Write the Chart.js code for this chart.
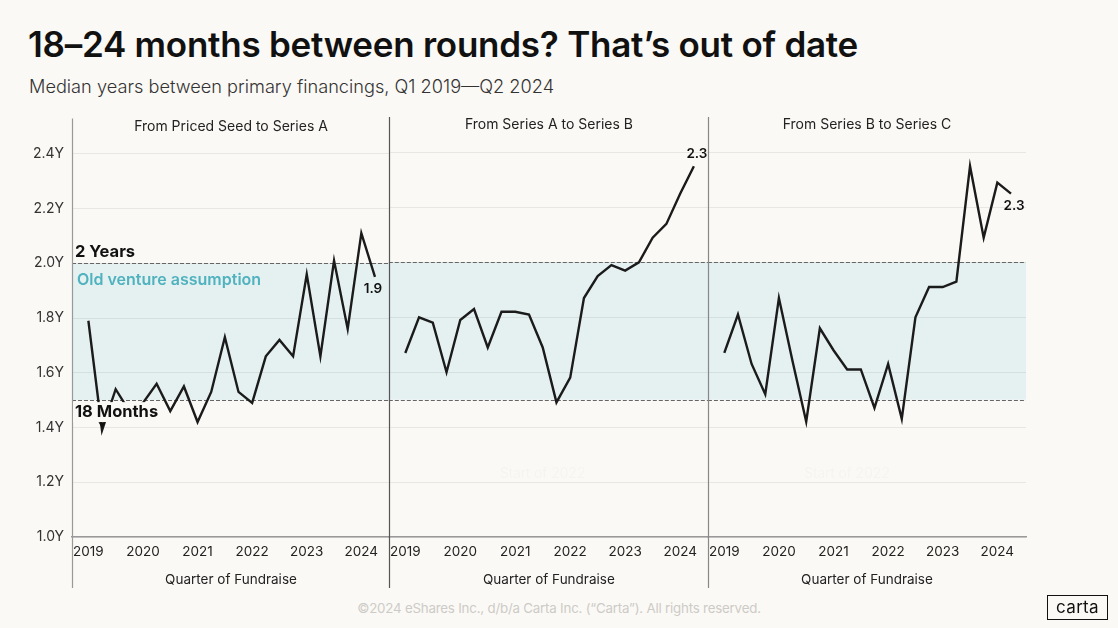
<!DOCTYPE html>
<html lang="en">
<head>
<meta charset="UTF-8">
<title>18–24 months between rounds? That’s out of date</title>
<script src="https://cdn.jsdelivr.net/npm/chart.js"></script>
<style>
  body { margin: 0; background: #fbf9f5; font-family: Inter, sans-serif; }
  #page { position: relative; width: 1118px; height: 628px; overflow: hidden; }
  h1 { position: absolute; left: 28px; top: 27px; margin: 0; font-size: 35px; line-height: 1;
       font-weight: 600; letter-spacing: -0.25px; color: #111; white-space: nowrap; }
  .sub { position: absolute; left: 29px; top: 77px; font-size: 18.2px; line-height: 1;
         font-weight: 300; color: #333; white-space: nowrap; }
  .panel { position: absolute; top: 110px; height: 490px; }
  .footer { position: absolute; left: 0; width: 1118px; top: 600px; text-align: center;
            font-size: 13.3px; color: #cdcbc7; letter-spacing: -0.2px; }
  .logo { position: absolute; left: 1047px; top: 595px; width: 59px; height: 23px; border: 1.5px solid #111;
          font-size: 17px; line-height: 22px; text-align: center; color: #111; letter-spacing: 0.3px; }
</style>
</head>
<body>
<div id="page">
  <h1>18–24 months between rounds? That’s out of date</h1>
  <div class="sub">Median years between primary financings, Q1 2019—Q2 2024</div>

  <div class="panel" style="left:0;width:390px"><canvas id="c1"></canvas></div>
  <div class="panel" style="left:383px;width:326px"><canvas id="c2"></canvas></div>
  <div class="panel" style="left:702px;width:347px"><canvas id="c3"></canvas></div>

  <div class="footer">©2024 eShares Inc., d/b/a Carta Inc. (“Carta”). All rights reserved.</div>
  <div class="logo">carta</div>
</div>

<script>
  // quarters Q1 2019 .. Q2 2024
  const quarters = [
    'Q1 2019', 'Q2 2019', 'Q3 2019', 'Q4 2019',
    'Q1 2020', 'Q2 2020', 'Q3 2020', 'Q4 2020',
    'Q1 2021', 'Q2 2021', 'Q3 2021', 'Q4 2021',
    'Q1 2022', 'Q2 2022', 'Q3 2022', 'Q4 2022',
    'Q1 2023', 'Q2 2023', 'Q3 2023', 'Q4 2023',
    'Q1 2024', 'Q2 2024'
  ];
  const yearTicks = ['2019', '2020', '2021', '2022', '2023', '2024'];
  const yTicks = [1.0, 1.2, 1.4, 1.6, 1.8, 2.0, 2.2, 2.4];

  // median years between rounds
  const seedToA = [1.79, 1.39, 1.54, 1.46, 1.49, 1.56, 1.46, 1.55, 1.42, 1.53, 1.73,
                   1.53, 1.49, 1.66, 1.72, 1.66, 1.96, 1.66, 2.01, 1.76, 2.11, 1.95];
  const aToB = [1.67, 1.80, 1.78, 1.60, 1.79, 1.83, 1.69, 1.82, 1.82, 1.81, 1.69,
                1.49, 1.58, 1.87, 1.95, 1.99, 1.97, 2.00, 2.09, 2.14, 2.25, 2.35];
  const bToC = [1.67, 1.81, 1.63, 1.52, 1.87, 1.64, 1.42, 1.76, 1.68, 1.61, 1.61,
                1.47, 1.63, 1.43, 1.80, 1.91, 1.91, 1.93, 2.35, 2.09, 2.29, 2.25];

  const panelTitles = ['From Priced Seed to Series A', 'From Series A to Series B', 'From Series B to Series C'];
  const endLabels = ['1.9', '2.3', '2.3'];
  const oldLow = 1.5, oldHigh = 2.0;   // 18 months .. 2 years

  const FONT = 'Inter, sans-serif';
  const INK = '#1b1b1b';

  function facetPlugin(cfg) {
    return {
      id: 'facet',
      beforeDraw(chart) {
        const { ctx, chartArea: a, scales: { y } } = chart;
        ctx.save();
        ctx.fillStyle = '#e5f0f0';
        ctx.fillRect(a.left, y.getPixelForValue(oldHigh), a.right - a.left,
                     y.getPixelForValue(oldLow) - y.getPixelForValue(oldHigh));
        ctx.restore();
      },
      beforeDatasetsDraw(chart) {
        const { ctx, chartArea: a, scales: { y } } = chart;
        ctx.save();
        ctx.strokeStyle = '#666';
        ctx.lineWidth = 1;
        ctx.setLineDash([4, 2]);
        [oldHigh, oldLow].forEach(v => {
          const py = Math.round(y.getPixelForValue(v)) + 0.5;
          ctx.beginPath(); ctx.moveTo(a.left, py); ctx.lineTo(a.right, py); ctx.stroke();
        });
        ctx.restore();
        if (cfg.faint) {
          ctx.save();
          ctx.fillStyle = '#f5f3ef';
          ctx.font = '300 14px ' + FONT;
          ctx.textAlign = 'center';
          ctx.textBaseline = 'middle';
          ctx.fillText('Start of 2022', chart.scales.x.getPixelForValue(quarters.indexOf(cfg.faint)), y.getPixelForValue(1.23));
          ctx.restore();
        }
      },
      afterDatasetsDraw(chart) {
        const { ctx, chartArea: a, scales: { x, y } } = chart;
        const vals = cfg.values;
        const last = vals.length - 1;
        ctx.save();
        // panel divider
        ctx.strokeStyle = cfg.divider;
        ctx.lineWidth = 1.2;
        ctx.beginPath();
        ctx.moveTo(Math.round(a.left) + 0.5, a.top - 8);
        ctx.lineTo(Math.round(a.left) + 0.5, a.bottom + 51);
        ctx.stroke();
        // facet header
        ctx.fillStyle = '#222';
        ctx.font = '400 14px ' + FONT;
        ctx.textAlign = 'center';
        ctx.textBaseline = 'middle';
        ctx.fillText(cfg.title, (a.left + a.right) / 2, a.top);
        // end value label
        ctx.font = '600 13.5px ' + FONT;
        ctx.fillStyle = '#111';
        ctx.fillText(cfg.endLabel, x.getPixelForValue(last) + cfg.endDx, y.getPixelForValue(vals[last]) + cfg.endDy);
        if (cfg.notes) {
          ctx.textAlign = 'left';
          ctx.font = '700 16.5px ' + FONT;
          ctx.fillStyle = '#111';
          ctx.fillText('2 Years', a.left + 3, y.getPixelForValue(oldHigh) - 11);
          ctx.font = '600 16px ' + FONT;
          ctx.fillStyle = '#4fb2bf';
          ctx.fillText('Old venture assumption', a.left + 5, y.getPixelForValue(oldHigh) + 17);
          const y18 = y.getPixelForValue(oldLow) + 12;
          ctx.fillStyle = '#fbf9f5';
          ctx.fillRect(a.left + 1, y18 - 10, 90, 20);
          ctx.font = '700 16.5px ' + FONT;
          ctx.fillStyle = '#111';
          ctx.fillText('18 Months', a.left + 3, y18);
          ctx.beginPath();
          const px = x.getPixelForValue(1);
          ctx.moveTo(px - 3.5, y18 + 10); ctx.lineTo(px + 3.5, y18 + 10); ctx.lineTo(px, y18 + 16);
          ctx.closePath(); ctx.fill();
        }
        ctx.restore();
      }
    };
  }

  function makePanel(id, values, idx, extra) {
    const showY = idx === 0;
    return new Chart(document.getElementById(id), {
      type: 'line',
      data: {
        datasets: [{
          data: values.map((v, i) => ({ x: i, y: v })),
          borderColor: INK,
          borderWidth: 2.4,
          pointRadius: 0,
          tension: 0,
          fill: false
        }]
      },
      options: {
        responsive: true,
        maintainAspectRatio: false,
        animation: false,
        layout: { padding: { top: 15, right: extra.padRight || 0, left: 0, bottom: 0 } },
        plugins: { legend: { display: false }, tooltip: { enabled: false } },
        scales: {
          x: {
            type: 'linear',
            min: -1.2,
            max: quarters.length - 1 + 1.1,
            afterBuildTicks: s => { s.ticks = yearTicks.map(yr => ({ value: quarters.indexOf('Q1 ' + yr) })); },
            ticks: {
              callback: (v, i) => yearTicks[i],
              autoSkip: false, maxRotation: 0, padding: 7,
              color: '#222', font: { family: FONT, size: 13.5 }
            },
            grid: { display: false, drawTicks: false },
            border: { display: true, color: '#999', width: 1.5 },
            title: {
              display: true, text: 'Quarter of Fundraise', color: '#222',
              font: { family: FONT, size: 13.5 }, padding: { top: 0, bottom: 12 }
            },
            afterFit: s => { s.height = 63; }
          },
          y: {
            min: 1.0,
            max: 2.5,
            afterBuildTicks: s => { s.ticks = yTicks.map(v => ({ value: v })); },
            ticks: {
              display: showY,
              callback: v => v.toFixed(1) + 'Y',
              padding: 8, color: '#333', font: { family: FONT, size: 14 }
            },
            grid: { color: 'rgba(0,0,0,0.07)', lineWidth: 1, drawTicks: false },
            border: { display: false },
            afterFit: s => { s.width = showY ? 72 : 0; }
          }
        }
      },
      plugins: [facetPlugin(Object.assign({ title: panelTitles[idx], endLabel: endLabels[idx], values: values }, extra))]
    });
  }

  makePanel('c1', seedToA, 0, { divider: '#999', notes: true, endDx: -2, endDy: 12 });
  makePanel('c2', aToB, 1, { divider: '#555', endDx: 3, endDy: -12, faint: 'Q3 2021' });
  makePanel('c3', bToC, 2, { divider: '#888', endDx: 3, endDy: 12, faint: 'Q2 2021', padRight: 23 });
</script>
</body>
</html>
